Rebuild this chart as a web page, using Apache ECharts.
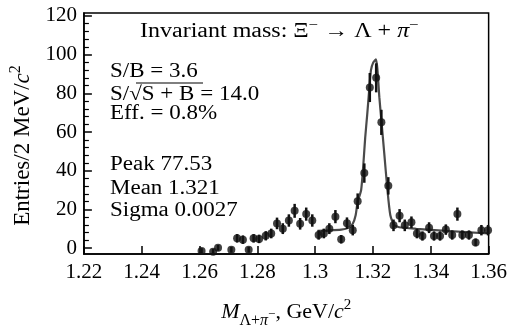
<!DOCTYPE html>
<html><head><meta charset="utf-8">
<script src="https://cdn.jsdelivr.net/npm/echarts@6/dist/echarts.min.js"></script>
<style>html,body{margin:0;padding:0;background:#fff}#c{width:510px;height:334px}</style>
</head><body><div id="c"></div>
<script>
// ---- data ----
const massGeV = [1.2607,1.2647,1.2664,1.2710,1.2730,1.2750,1.2770,1.2787,1.2806,1.2829,1.2848,1.2868,1.2888,1.2909,1.2929,1.2948,1.2969,1.2990,1.3012,1.3030,1.3049,1.3070,1.3090,1.3110,1.3130,1.3147,1.3170,1.3189,1.3211,1.3229,1.3253,1.3271,1.3292,1.3310,1.3333,1.3352,1.3371,1.3394,1.3411,1.3432,1.3452,1.3474,1.3492,1.3509,1.3532,1.3555,1.3575,1.3598];
const entries = [-1.5,-1.8,0.2,-0.8,5.1,4.4,-0.8,5.1,4.8,6.4,7.6,12.8,10.1,14.3,19.3,12.6,17.6,14.3,6.8,7.6,10.1,16.3,4.6,12.9,9.3,24.3,38.8,83,88,65,32.2,11.8,16.8,11.8,13.4,7.6,6.3,10.6,6.3,6.3,9.6,6.8,17.6,6.8,6.8,3.0,9.3,9.3];
const entryErr = [1.5,1.5,1.5,1.5,2.2,2.2,1.5,2.2,2.2,2.4,2.5,3.0,2.8,3.2,3.6,3.0,3.4,3.2,2.4,2.5,2.8,3.4,2.2,3.0,2.7,4.0,5.0,7.5,7.5,6.5,4.5,3.0,3.4,3.0,3.0,2.5,2.4,2.8,2.4,2.4,2.7,2.4,3.4,2.4,2.4,2.0,2.7,2.7];
const fitMass = [1.3008,1.3050,1.3090,1.3115,1.3130,1.3140,1.3147,1.3159,1.3167,1.3173,1.3180,1.3187,1.3193,1.3201,1.3210,1.3215,1.3222,1.3229,1.3239,1.3250,1.3260,1.3273,1.3291,1.3350,1.3450,1.3600];
const fitEntries = [9.0,9.2,9.6,10.5,12.6,17,24,30,44,57,69,82,92,96,97.5,93,78,66,49,30,17,12,10.8,10.0,9.0,7.6];
const yLabelValues = [0,20,40,60,80,100,120];
const yMinorValues = [4,8,12,16,24,28,32,36,44,48,52,56,64,68,72,76,84,88,92,96,104,108,112,116];
const titleText = 'Invariant mass: {g|Ξ}{sup|−} → {g|Λ} + {it|π}{sup|−}';
const statsLines = ['S/B = 3.6', 'S/√S + B = 14.0', 'Eff. = 0.8%', 'Peak 77.53', 'Mean 1.321', 'Sigma 0.0027'];

// ---- styles ----
const FF = '"Liberation Serif","Times New Roman",serif';
const FS = 20;
function makeRich(fs) {
  return {
    n: {fontFamily: FF, fontSize: fs, color: '#000', verticalAlign: 'middle'},
    g: {fontFamily: FF, fontSize: fs, color: '#000', verticalAlign: 'middle'},
    it: {fontFamily: FF, fontSize: fs, fontStyle: 'italic', color: '#000', verticalAlign: 'middle'},
    sup: {fontFamily: FF, fontSize: Math.round(fs * 0.68), color: '#000', verticalAlign: 'middle', padding: [0, 0, 14, 0]},
    sub: {fontFamily: FF, fontSize: Math.round(fs * 0.72), color: '#000', verticalAlign: 'middle', padding: [17, 0, 0, 0]},
    subit: {fontFamily: FF, fontSize: Math.round(fs * 0.72), fontStyle: 'italic', color: '#000', verticalAlign: 'middle', padding: [17, 0, 0, 0]},
    subsup: {fontFamily: FF, fontSize: Math.round(fs * 0.58), color: '#000', verticalAlign: 'middle', padding: [4, 0, 0, 0]}
  };
}

const chart = echarts.init(document.getElementById('c'), null, {renderer: 'canvas'});
const statY = [72, 95, 114, 165, 189, 211];
const SX = 1.15;
const graphics = [
  {type: 'text', x: 140, y: 32, scaleX: 1.2, style: {text: titleText, fontFamily: FF, fontSize: FS, fill: '#000', verticalAlign: 'middle', rich: makeRich(FS)}}
].concat(statsLines.map((t, i) => ({
  type: 'text', x: 110, y: statY[i], scaleX: SX,
  style: {text: t, fontFamily: FF, fontSize: FS, fill: '#000', verticalAlign: 'middle'}
})));
graphics.push({type: 'line', shape: {x1: 136, y1: 83, x2: 203, y2: 83}, style: {stroke: '#000', lineWidth: 1.2}});

chart.setOption({
  animation: false,
  backgroundColor: '#fff',
  grid: {left: 82, right: 20, top: 13, bottom: 71, show: true, borderColor: '#000', borderWidth: 1.5},
  xAxis: {
    type: 'value', min: 1.22, max: 1.36, interval: 0.02,
    axisLine: {onZero: false, lineStyle: {color: '#000', width: 1.5}},
    axisTick: {inside: true, length: 8, lineStyle: {color: '#000', width: 1.5}},
    axisLabel: {color: '#000', fontFamily: FF, fontSize: 21, margin: 8},
    splitLine: {show: false},
    name: '{it|M}{sub|Λ+}{subit|π}{subsup|−}{n|, GeV/}{it|c}{sup|2}',
    nameLocation: 'middle', nameGap: 42,
    nameTextStyle: {fontFamily: FF, fontSize: 22, color: '#000', rich: makeRich(22)}
  },
  yAxis: [{
    type: 'value', min: -3, max: 121.5,
    axisLine: {onZero: false, lineStyle: {color: '#000', width: 1.5}},
    axisTick: {inside: true, length: 8, customValues: yLabelValues, lineStyle: {color: '#000', width: 1.5}},
    axisLabel: {color: '#000', fontFamily: FF, fontSize: 21, margin: 7, customValues: yLabelValues},
    splitLine: {show: false},
    name: '{n|Entries/2 MeV/}{it|c}{sup|2}',
    nameLocation: 'middle', nameGap: 45,
    nameTextStyle: {fontFamily: FF, fontSize: 23, color: '#000', padding: [0, 24, 0, 0], rich: makeRich(23)}
  }, {
    type: 'value', min: -3, max: 121.5, position: 'left',
    axisLine: {show: false, onZero: false},
    axisTick: {inside: true, length: 5, customValues: yMinorValues, lineStyle: {color: '#000', width: 1.2}},
    axisLabel: {show: false},
    splitLine: {show: false}
  }],
  graphic: graphics,
  series: [{
    type: 'line', data: fitMass.map((m, i) => [m, fitEntries[i]]),
    showSymbol: false, smooth: 0.2, z: 2,
    lineStyle: {color: '#4a4a4a', width: 2.2}
  }, {
    type: 'custom', z: 3,
    data: massGeV.map((m, i) => [m, entries[i] - entryErr[i], entries[i] + entryErr[i]]),
    encode: {x: 0, y: [1, 2]},
    renderItem: function (params, api) {
      const a = api.coord([api.value(0), api.value(1)]);
      const b = api.coord([api.value(0), api.value(2)]);
      return {type: 'line', shape: {x1: a[0], y1: a[1], x2: b[0], y2: b[1]}, style: {stroke: '#111', lineWidth: 2.5}};
    }
  }, {
    type: 'scatter', z: 4, symbol: 'circle', symbolSize: 8,
    itemStyle: {color: '#111'},
    data: massGeV.map((m, i) => [m, entries[i]])
  }]
});
</script></body></html>
